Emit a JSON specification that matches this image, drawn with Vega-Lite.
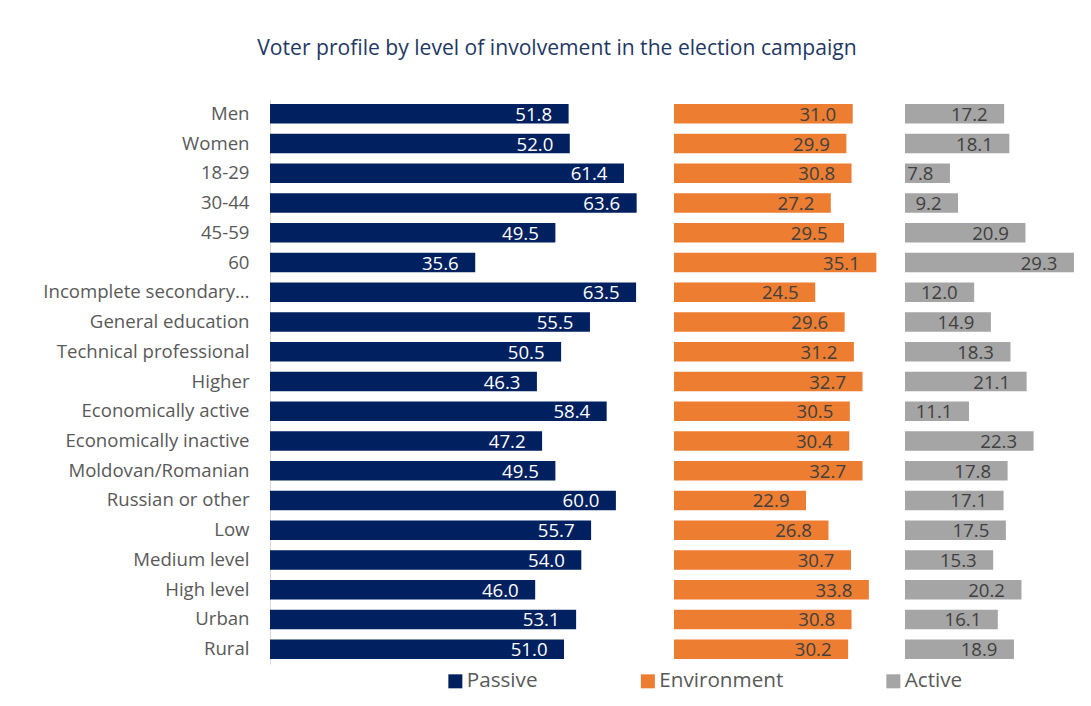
{
  "$schema": "https://vega.github.io/schema/vega-lite/v6.json",
  "background": "white",
  "padding": {"left": 10, "top": 37, "right": 10, "bottom": 10},
  "title": {
    "text": "Voter profile by level of involvement in the election campaign",
    "anchor": "middle",
    "frame": "bounds",
    "font": "Open Sans",
    "fontSize": 21.1,
    "fontWeight": "normal",
    "color": "#1F3864",
    "offset": 40.2,
    "dx": 13
  },
  "data": {
    "values": [
      {"group": "Men", "series": "Passive", "value": 51.8},
      {"group": "Men", "series": "Environment", "value": 31.0},
      {"group": "Men", "series": "Active", "value": 17.2},
      {"group": "Women", "series": "Passive", "value": 52.0},
      {"group": "Women", "series": "Environment", "value": 29.9},
      {"group": "Women", "series": "Active", "value": 18.1},
      {"group": "18-29", "series": "Passive", "value": 61.4},
      {"group": "18-29", "series": "Environment", "value": 30.8},
      {"group": "18-29", "series": "Active", "value": 7.8},
      {"group": "30-44", "series": "Passive", "value": 63.6},
      {"group": "30-44", "series": "Environment", "value": 27.2},
      {"group": "30-44", "series": "Active", "value": 9.2},
      {"group": "45-59", "series": "Passive", "value": 49.5},
      {"group": "45-59", "series": "Environment", "value": 29.5},
      {"group": "45-59", "series": "Active", "value": 20.9},
      {"group": "60", "series": "Passive", "value": 35.6},
      {"group": "60", "series": "Environment", "value": 35.1},
      {"group": "60", "series": "Active", "value": 29.3},
      {"group": "Incomplete secondary…", "series": "Passive", "value": 63.5},
      {"group": "Incomplete secondary…", "series": "Environment", "value": 24.5},
      {"group": "Incomplete secondary…", "series": "Active", "value": 12.0},
      {"group": "General education", "series": "Passive", "value": 55.5},
      {"group": "General education", "series": "Environment", "value": 29.6},
      {"group": "General education", "series": "Active", "value": 14.9},
      {"group": "Technical professional", "series": "Passive", "value": 50.5},
      {"group": "Technical professional", "series": "Environment", "value": 31.2},
      {"group": "Technical professional", "series": "Active", "value": 18.3},
      {"group": "Higher", "series": "Passive", "value": 46.3},
      {"group": "Higher", "series": "Environment", "value": 32.7},
      {"group": "Higher", "series": "Active", "value": 21.1},
      {"group": "Economically active", "series": "Passive", "value": 58.4},
      {"group": "Economically active", "series": "Environment", "value": 30.5},
      {"group": "Economically active", "series": "Active", "value": 11.1},
      {"group": "Economically inactive", "series": "Passive", "value": 47.2},
      {"group": "Economically inactive", "series": "Environment", "value": 30.4},
      {"group": "Economically inactive", "series": "Active", "value": 22.3},
      {"group": "Moldovan/Romanian", "series": "Passive", "value": 49.5},
      {"group": "Moldovan/Romanian", "series": "Environment", "value": 32.7},
      {"group": "Moldovan/Romanian", "series": "Active", "value": 17.8},
      {"group": "Russian or other", "series": "Passive", "value": 60.0},
      {"group": "Russian or other", "series": "Environment", "value": 22.9},
      {"group": "Russian or other", "series": "Active", "value": 17.1},
      {"group": "Low", "series": "Passive", "value": 55.7},
      {"group": "Low", "series": "Environment", "value": 26.8},
      {"group": "Low", "series": "Active", "value": 17.5},
      {"group": "Medium level", "series": "Passive", "value": 54.0},
      {"group": "Medium level", "series": "Environment", "value": 30.7},
      {"group": "Medium level", "series": "Active", "value": 15.3},
      {"group": "High level", "series": "Passive", "value": 46.0},
      {"group": "High level", "series": "Environment", "value": 33.8},
      {"group": "High level", "series": "Active", "value": 20.2},
      {"group": "Urban", "series": "Passive", "value": 53.1},
      {"group": "Urban", "series": "Environment", "value": 30.8},
      {"group": "Urban", "series": "Active", "value": 16.1},
      {"group": "Rural", "series": "Passive", "value": 51.0},
      {"group": "Rural", "series": "Environment", "value": 30.2},
      {"group": "Rural", "series": "Active", "value": 18.9}
    ]
  },
  "spacing": 0,
  "hconcat": [
    {
      "width": 403.55,
      "height": 565,
      "transform": [{"filter": "datum.series === 'Passive'"}],
      "encoding": {
        "y": {
          "field": "group", "type": "nominal", "sort": null,
          "scale": {"paddingInner": 0.344, "paddingOuter": 0.172},
          "axis": {
            "title": null, "ticks": false, "tickSize": 0, "labelPadding": 21,
            "labelFont": "Open Sans", "labelFontSize": 18.6, "labelColor": "#595959",
            "labelLimit": 400, "domainColor": "#D9D9D9", "domainWidth": 1,
            "minExtent": 260, "maxExtent": 260
          }
        },
        "x": {"field": "value", "type": "quantitative", "scale": {"domain": [0, 70], "nice": false, "zero": true}, "axis": null}
      },
      "layer": [
        {
          "mark": {"type": "bar"},
          "encoding": {
            "color": {
              "field": "series", "type": "nominal",
              "scale": {"domain": ["Passive", "Environment", "Active"], "range": ["#002060", "#ED7D31", "#A5A5A5"]},
              "legend": {
                "orient": "none", "legendX": 175, "legendY": 571.5, "direction": "horizontal",
                "title": null, "symbolType": "square", "symbolSize": 196, "symbolStrokeWidth": 0,
                "labelFont": "Open Sans", "labelFontSize": 20.7, "labelColor": "#595959",
                "labelOffset": 1, "columnPadding": 99.5, "padding": 0
              }
            }
          }
        },
        {
          "mark": {"type": "text", "align": "right", "baseline": "middle", "dx": -16.5, "dy": 1, "font": "Open Sans", "fontSize": 18.6, "color": "white"},
          "encoding": {"text": {"field": "value", "type": "quantitative", "format": ".1f"}}
        }
      ]
    },
    {
      "width": 230.6,
      "height": 565,
      "transform": [{"filter": "datum.series === 'Environment'"}],
      "encoding": {
        "y": {"field": "group", "type": "nominal", "sort": null, "scale": {"paddingInner": 0.344, "paddingOuter": 0.172}, "axis": null},
        "x": {"field": "value", "type": "quantitative", "scale": {"domain": [0, 40], "nice": false, "zero": true}, "axis": null}
      },
      "layer": [
        {
          "mark": {"type": "bar"},
          "encoding": {"color": {"field": "series", "type": "nominal"}}
        },
        {
          "mark": {"type": "text", "align": "right", "baseline": "middle", "dx": -16.5, "dy": 1, "font": "Open Sans", "fontSize": 18.6, "color": "#404040"},
          "encoding": {"text": {"field": "value", "type": "quantitative", "format": ".1f"}}
        }
      ]
    },
    {
      "width": 172.95,
      "height": 565,
      "transform": [{"filter": "datum.series === 'Active'"}],
      "encoding": {
        "y": {"field": "group", "type": "nominal", "sort": null, "scale": {"paddingInner": 0.344, "paddingOuter": 0.172}, "axis": null},
        "x": {"field": "value", "type": "quantitative", "scale": {"domain": [0, 30], "nice": false, "zero": true}, "axis": null}
      },
      "layer": [
        {
          "mark": {"type": "bar"},
          "encoding": {"color": {"field": "series", "type": "nominal"}}
        },
        {
          "mark": {"type": "text", "align": "right", "baseline": "middle", "dx": -16.5, "dy": 1, "font": "Open Sans", "fontSize": 18.6, "color": "#404040"},
          "encoding": {"text": {"field": "value", "type": "quantitative", "format": ".1f"}}
        }
      ]
    }
  ],
  "config": {
    "view": {"stroke": null},
    "font": "Open Sans"
  }
}
